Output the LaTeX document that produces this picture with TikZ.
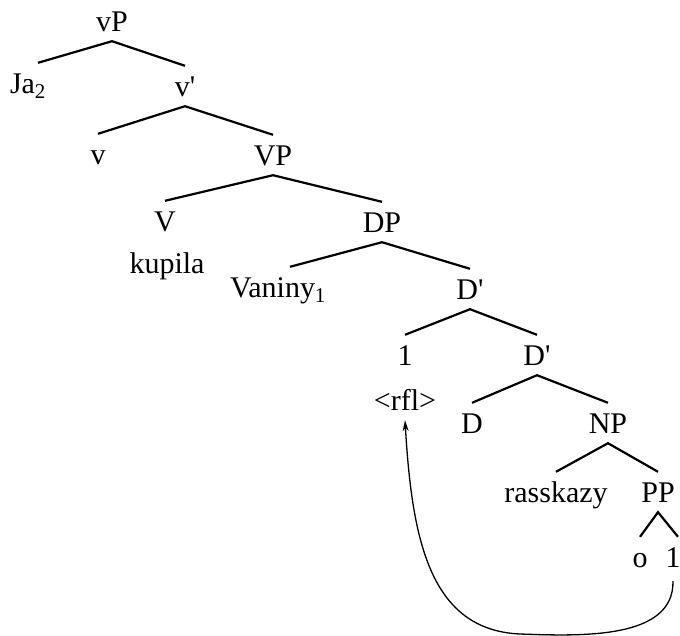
\documentclass[tikz,border=0pt]{standalone}
\usepackage{fontspec}
\setmainfont{Liberation Serif}
\usetikzlibrary{arrows.meta}
\begin{document}
\begin{tikzpicture}[x=1pt,y=-1pt,
  lab/.style={anchor=base, inner xsep=0pt, inner ysep=10pt, text height=20pt, text depth=0pt, font=\fontsize{30}{36}\selectfont},
  br/.style={line width=2.2pt, line join=miter},
  mv/.style={line width=1.3pt, -{Stealth[length=11pt,width=6pt]}}]
\useasboundingbox (0,0) rectangle (680,635);
\node[lab] (vP) at (112,31) {vP};
\node[lab] (Ja) at (28,93) {Ja\textsubscript{2}};
\node[lab] (vbar) at (185,96) {v\textquotesingle};
\node[lab] (v) at (98,164) {v};
\node[lab] (VP) at (273,165) {VP};
\node[lab] (V) at (165,231) {V};
\node[lab] (kup) at (167,273) {kupila};
\node[lab] (DP) at (382,232) {DP};
\node[lab] (Van) at (278,297) {Vaniny\textsubscript{1}};
\node[lab] (Dbar1) at (470,299) {D\textquotesingle};
\node[lab] (one1) at (405,365) {1};
\node[lab] (rfl) at (405,410) {\textless rfl\textgreater};
\node[lab] (Dbar2) at (537,365) {D\textquotesingle};
\node[lab] (D) at (472,433) {D};
\node[lab] (NP) at (608,433) {NP};
\node[lab] (rass) at (556,502) {rasskazy};
\node[lab] (PP) at (658,502) {PP};
\node[lab] (o) at (640,567) {o};
\node[lab] (one2) at (673,567) {1};
\draw[br] ([xshift=10pt]Ja.north) -- (vP.south) -- (vbar.north);
\draw[br] (v.north) -- (vbar.south) -- (VP.north);
\draw[br] (V.north) -- (VP.south) -- (DP.north);
\draw[br] ([xshift=12pt]Van.north) -- (DP.south) -- (Dbar1.north);
\draw[br] (one1.north) -- (Dbar1.south) -- (Dbar2.north);
\draw[br] (D.north) -- (Dbar2.south) -- (NP.north);
\draw[br] (rass.north) -- (NP.south) -- (PP.north);
\draw[br] (o.north) -- (PP.south) -- ([xshift=5pt]one2.north);
\coordinate (low) at (520,634);
\draw[mv] ([yshift=-4pt]one2.south) .. controls (674,640) and (580,636) .. (low) .. controls (430,630) and (412,540) .. (rfl.south);
\end{tikzpicture}
\end{document}
